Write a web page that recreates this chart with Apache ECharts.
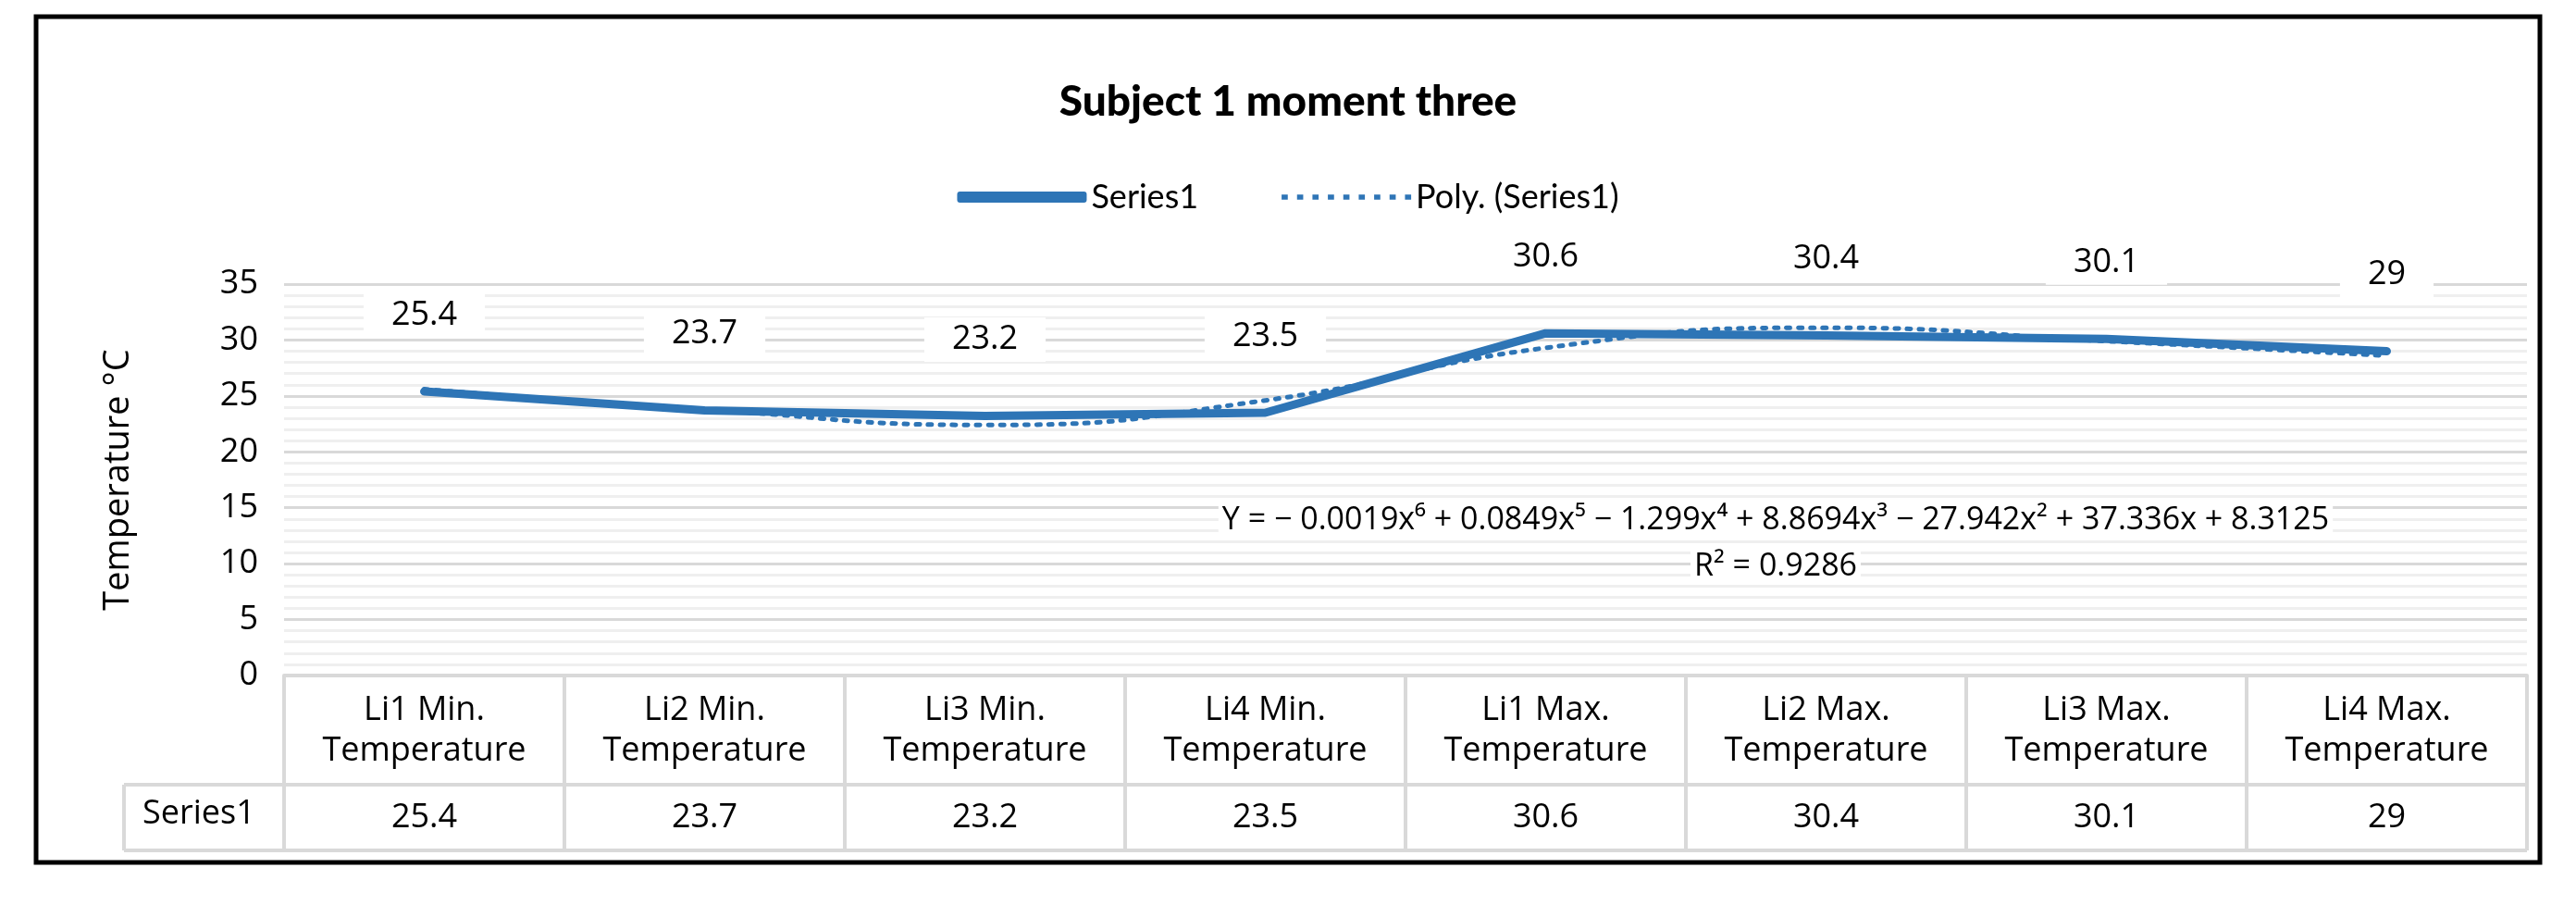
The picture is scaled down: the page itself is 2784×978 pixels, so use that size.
<!DOCTYPE html>
<html>
<head>
	<meta charset="utf-8">
	<title>Subject 1 moment three</title>
	<script src="https://cdn.jsdelivr.net/npm/echarts@6/dist/echarts.min.js"></script>
	<style>html,body{margin:0;padding:0;background:#fff;}</style>
</head>
<body>
	<div id="main" style="width:2784px;height:978px;"></div>
	<script type="text/javascript">
		// data
		var categories = ['Li1 Min.\nTemperature', 'Li2 Min.\nTemperature', 'Li3 Min.\nTemperature', 'Li4 Min.\nTemperature',
			'Li1 Max.\nTemperature', 'Li2 Max.\nTemperature', 'Li3 Max.\nTemperature', 'Li4 Max.\nTemperature'];
		var series1 = [25.4, 23.7, 23.2, 23.5, 30.6, 30.4, 30.1, 29];
		// polynomial trend line, estimated from the dotted curve
		var trend = [25.6, 23.8, 22.4, 24.6, 29.3, 31.1, 29.9, 28.6];
		var equation = 'Y = − 0.0019x⁶ + 0.0849x⁵ − 1.299x⁴ + 8.8694x³ − 27.942x² + 37.336x + 8.3125';
		var r2 = 'R² = 0.9286';

		var L = 307, R = 2731, T = 307, B = 730;
		var rowY = 848, endY = 919, tableLeft = 134;
		var blue = '#2e75b6', gridGray = '#d9d9d9';

		var chart = echarts.init(document.getElementById('main'));

		// table borders (drawn around the axes)
		var lines = [];
		function seg(x1, y1, x2, y2) {
			lines.push({ type: 'line', shape: { x1: x1, y1: y1, x2: x2, y2: y2 }, style: { stroke: gridGray, lineWidth: 4 } });
		}
		var cw = (R - L) / categories.length;
		for (var i = 0; i <= categories.length; i++) seg(L + i * cw, B, L + i * cw, endY);
		seg(tableLeft, rowY, R, rowY);
		seg(tableLeft, endY, R, endY);
		seg(tableLeft, rowY, tableLeft, endY);

		// dotted legend icon
		var dots = '';
		for (var k = 0; k < 9; k++) dots += 'M' + (k * 3) + ' 0h1.2v1h-1.2z';

		var option = {
			backgroundColor: '#fff',
			textStyle: { fontFamily: 'Open Sans' },
			title: {
				text: 'Subject 1 moment three', left: 'center', top: 82,
				textStyle: { fontFamily: 'Lato', fontWeight: 900, fontSize: 46, color: '#000' }
			},
			legend: {
				top: 190, left: 'center', itemWidth: 140, itemHeight: 12, itemGap: 90,
				textStyle: { fontFamily: 'Lato', fontSize: 36, color: '#000' },
				data: [
					{ name: 'Series1', icon: 'roundRect' },
					{ name: 'Poly. (Series1)', icon: 'path://' + dots, itemStyle: { color: blue } }
				]
			},
			grid: { left: L, right: 2784 - R, top: T, bottom: 978 - B },
			xAxis: [{
				type: 'category', data: categories, boundaryGap: true,
				axisLine: { lineStyle: { color: gridGray, width: 4 } },
				axisTick: { show: false },
				axisLabel: { fontSize: 36, color: '#000', lineHeight: 44, margin: 16, interval: 0 }
			}, {
				type: 'category', data: series1.map(String), position: 'bottom', offset: 136,
				axisLine: { show: false }, axisTick: { show: false },
				axisLabel: { fontSize: 36, color: '#000', margin: 0, interval: 0 }
			}],
			yAxis: {
				type: 'value', min: 0, max: 35, interval: 5,
				name: 'Temperature °C', nameLocation: 'middle', nameGap: 160,
				nameTextStyle: { fontSize: 38, color: '#000' },
				axisLine: { show: false }, axisTick: { show: false },
				axisLabel: { fontSize: 36, color: '#000', margin: 28 },
				splitLine: { lineStyle: { color: gridGray, width: 3 } },
				minorTick: { show: false, splitNumber: 5 },
				minorSplitLine: { show: true, lineStyle: { color: '#efefef', width: 3 } }
			},
			graphic: lines.concat([
				{ type: 'text', left: tableLeft + 20, top: rowY + 14, style: { text: 'Series1', font: '36px "Open Sans"', fill: '#000' } },
				{ type: 'text', x: 1919, y: 562, z: 10, style: { text: equation, font: '34px "Open Sans"', fill: '#000', align: 'center', verticalAlign: 'middle', backgroundColor: '#fff', padding: [2, 4] } },
				{ type: 'text', x: 1919, y: 612, z: 10, style: { text: r2, font: '34px "Open Sans"', fill: '#000', align: 'center', verticalAlign: 'middle', backgroundColor: '#fff', padding: [2, 4] } },
				{ type: 'rect', shape: { x: 39, y: 18, width: 2706, height: 914 }, style: { fill: 'none', stroke: '#000', lineWidth: 5 } }
			]),
			series: [{
				name: 'Series1', type: 'line', data: series1, symbol: 'circle', symbolSize: 1, showSymbol: true, z: 3,
				lineStyle: { color: blue, width: 9, cap: 'round' }, itemStyle: { color: blue },
				label: {
					show: true, position: 'top', distance: 58, fontSize: 36, color: '#000',
					backgroundColor: '#fff', padding: [6, 30]
				},
				labelLayout: { hideOverlap: false }
			}, {
				name: 'Poly. (Series1)', type: 'line', data: trend, symbol: 'none', smooth: 0.5, z: 2,
				lineStyle: { color: blue, width: 5, type: [4, 9], cap: 'round' }, itemStyle: { color: blue }
			}]
		};

		chart.setOption(option);
	</script>
</body>
</html>
